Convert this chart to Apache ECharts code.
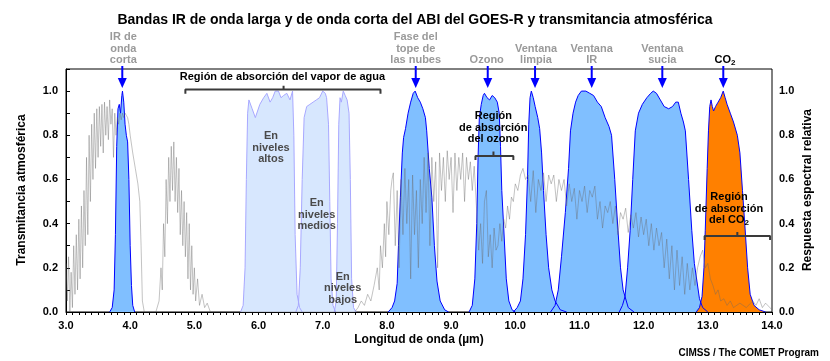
<!DOCTYPE html>
<html><head><meta charset="utf-8">
<script src="https://cdn.jsdelivr.net/npm/echarts@6/dist/echarts.min.js"></script>
<style>html,body{margin:0;padding:0;background:#fff}#c{width:830px;height:361px}</style>
</head><body><div id="c"></div>
<script>
// ---- DATA ----
const xTicks = [3,4,5,6,7,8,9,10,11,12,13,14];
const transmittance = [
[3.00,0.22],[3.02,0.05],[3.04,0.25],[3.06,0.0],[3.08,0.18],[3.10,0.02],[3.12,0.3],[3.14,0.08],[3.16,0.35],[3.18,0.1],
[3.20,0.42],[3.22,0.15],[3.24,0.48],[3.26,0.2],[3.28,0.55],[3.30,0.3],[3.32,0.7],[3.34,0.35],[3.36,0.8],[3.38,0.5],
[3.40,0.85],[3.42,0.6],[3.44,0.9],[3.46,0.65],[3.48,0.92],[3.50,0.7],[3.52,0.93],[3.54,0.75],[3.56,0.94],[3.58,0.72],
[3.60,0.95],[3.62,0.8],[3.64,0.93],[3.66,0.78],[3.68,0.96],[3.70,0.85],[3.72,0.92],[3.74,0.7],[3.76,0.9],[3.78,0.8],
[3.80,0.88],[3.82,0.85],[3.84,0.9],[3.86,0.87],[3.88,0.9],[3.90,0.88],[3.92,0.9],[3.94,0.89],[3.96,0.88],[3.98,0.85],
[4.00,0.8],[4.04,0.72],[4.08,0.65],[4.12,0.58],[4.15,0.5],[4.17,0.3],[4.19,0.05],[4.22,0.0],[4.40,0.0],
[4.45,0.05],[4.48,0.2],[4.50,0.1],[4.52,0.4],[4.54,0.25],[4.56,0.6],[4.58,0.4],[4.60,0.7],[4.62,0.5],[4.64,0.75],
[4.66,0.55],[4.68,0.77],[4.70,0.5],[4.72,0.7],[4.74,0.45],[4.76,0.65],[4.78,0.35],[4.80,0.55],[4.82,0.3],[4.84,0.5],
[4.86,0.25],[4.88,0.45],[4.90,0.15],[4.92,0.4],[4.94,0.1],[4.96,0.3],[4.98,0.08],[5.00,0.2],[5.02,0.05],[5.05,0.15],
[5.08,0.03],[5.12,0.08],[5.16,0.02],[5.20,0.04],[5.25,0.0],[7.50,0.0],
[7.55,0.02],[7.60,0.05],[7.65,0.03],[7.70,0.08],[7.75,0.05],[7.80,0.12],[7.85,0.2],[7.88,0.1],[7.90,0.3],[7.93,0.2],
[7.96,0.4],[7.98,0.25],[8.00,0.5],[8.03,0.35],[8.06,0.55],[8.08,0.6],[8.10,0.63],[8.13,0.3],[8.16,0.55],[8.19,0.2],
[8.22,0.6],[8.25,0.35],[8.28,0.65],[8.31,0.4],[8.34,0.6],[8.37,0.15],[8.40,0.62],[8.43,0.35],[8.46,0.55],[8.49,0.2],
[8.52,0.6],[8.55,0.4],[8.58,0.7],[8.61,0.45],[8.64,0.72],[8.67,0.3],[8.70,0.7],[8.73,0.5],[8.76,0.68],[8.79,0.2],
[8.82,0.72],[8.85,0.55],[8.88,0.7],[8.91,0.5],[8.94,0.73],[8.97,0.6],[9.00,0.7],[9.03,0.45],[9.06,0.72],[9.09,0.55],
[9.12,0.7],[9.15,0.6],[9.18,0.72],[9.21,0.5],[9.24,0.7],[9.27,0.6],[9.30,0.68],[9.33,0.55],[9.36,0.66],[9.40,0.45],
[9.43,0.28],[9.46,0.4],[9.49,0.22],[9.52,0.5],[9.55,0.55],[9.58,0.25],[9.61,0.35],[9.64,0.2],[9.67,0.38],[9.70,0.28],
[9.73,0.3],[9.76,0.4],[9.79,0.32],[9.82,0.42],[9.85,0.38],[9.88,0.48],[9.91,0.42],[9.94,0.52],[9.97,0.5],[10.00,0.58],
[10.04,0.55],[10.08,0.62],[10.12,0.65],[10.16,0.6],[10.20,0.62],[10.24,0.5],[10.28,0.64],[10.32,0.45],[10.36,0.6],[10.40,0.55],
[10.44,0.63],[10.48,0.5],[10.52,0.62],[10.56,0.58],[10.60,0.62],[10.64,0.5],[10.68,0.6],[10.72,0.55],[10.76,0.6],[10.80,0.48],
[10.84,0.58],[10.88,0.5],[10.92,0.56],[10.96,0.42],[11.00,0.55],[11.04,0.5],[11.08,0.57],[11.12,0.45],[11.16,0.55],[11.20,0.52],
[11.24,0.57],[11.28,0.42],[11.32,0.5],[11.36,0.38],[11.40,0.48],[11.44,0.45],[11.48,0.5],[11.52,0.4],[11.56,0.48],[11.60,0.35],
[11.64,0.45],[11.68,0.42],[11.72,0.47],[11.76,0.36],[11.80,0.44],[11.84,0.38],[11.88,0.45],[11.92,0.34],[11.96,0.43],[12.00,0.35],
[12.04,0.42],[12.08,0.3],[12.12,0.4],[12.16,0.28],[12.20,0.38],[12.24,0.3],[12.28,0.36],[12.32,0.2],[12.36,0.33],[12.40,0.15],
[12.44,0.3],[12.48,0.1],[12.52,0.28],[12.56,0.12],[12.60,0.25],[12.64,0.08],[12.68,0.22],[12.72,0.1],[12.76,0.2],[12.80,0.12],
[12.84,0.2],[12.88,0.25],[12.92,0.28],[12.96,0.2],[13.00,0.22],[13.04,0.15],[13.08,0.12],[13.12,0.08],[13.16,0.1],[13.20,0.05],
[13.25,0.06],[13.30,0.03],[13.35,0.05],[13.40,0.02],[13.50,0.04],[13.60,0.02],[13.70,0.05],[13.75,0.03],[13.80,0.06],[13.85,0.02],
[13.90,0.04],[14.00,0.01]
];
const band7 = [[3.68,0],[3.72,0.02],[3.75,0.1],[3.77,0.35],[3.79,0.75],[3.81,0.92],[3.83,0.94],[3.85,0.9],[3.87,0.98],[3.88,1.0],[3.90,0.95],[3.92,0.85],[3.94,0.8],[3.96,0.77],[3.98,0.6],[4.00,0.3],[4.02,0.12],[4.04,0.03],[4.07,0]];
const band8 = [[5.72,0],[5.76,0.03],[5.79,0.2],[5.81,0.6],[5.83,0.9],[5.85,0.96],[5.90,0.92],[5.95,0.88],[6.02,0.94],[6.08,0.97],[6.13,0.99],[6.18,0.95],[6.22,0.97],[6.26,1.0],[6.31,1.0],[6.35,0.97],[6.39,0.98],[6.44,0.99],[6.49,0.96],[6.53,1.0],[6.55,0.8],[6.57,0.35],[6.60,0.08],[6.64,0.02],[6.68,0]];
const band9 = [[6.58,0],[6.62,0.03],[6.65,0.2],[6.68,0.6],[6.71,0.88],[6.75,0.93],[6.80,0.94],[6.85,0.95],[6.90,0.96],[6.95,0.97],[7.00,1.0],[7.04,0.99],[7.06,0.97],[7.09,0.85],[7.11,0.5],[7.13,0.15],[7.16,0.03],[7.20,0]];
const band10 = [[7.18,0],[7.21,0.05],[7.23,0.4],[7.25,0.85],[7.27,0.97],[7.29,0.95],[7.32,1.0],[7.35,0.98],[7.38,0.96],[7.41,0.9],[7.43,0.6],[7.45,0.15],[7.48,0.02],[7.52,0]];
const band11 = [[8.02,0],[8.08,0.02],[8.12,0.05],[8.16,0.13],[8.18,0.3],[8.21,0.52],[8.24,0.72],[8.26,0.79],[8.29,0.83],[8.33,0.9],[8.37,0.95],[8.41,0.99],[8.44,1.0],[8.48,0.97],[8.52,0.95],[8.56,0.92],[8.60,0.88],[8.62,0.82],[8.66,0.65],[8.70,0.52],[8.74,0.3],[8.78,0.14],[8.83,0.05],[8.90,0.01],[8.96,0]];
const band12 = [[9.28,0],[9.33,0.03],[9.37,0.15],[9.40,0.4],[9.42,0.7],[9.44,0.88],[9.47,0.94],[9.50,0.98],[9.52,0.99],[9.56,0.97],[9.60,0.96],[9.64,0.98],[9.68,0.97],[9.72,0.95],[9.75,0.9],[9.77,0.75],[9.79,0.55],[9.82,0.38],[9.86,0.15],[9.90,0.05],[9.95,0.01],[10.00,0]];
const band13 = [[9.97,0],[10.03,0.02],[10.08,0.05],[10.12,0.15],[10.16,0.35],[10.19,0.6],[10.21,0.85],[10.23,0.97],[10.25,1.0],[10.28,0.97],[10.31,0.93],[10.35,0.88],[10.38,0.83],[10.41,0.72],[10.44,0.55],[10.48,0.35],[10.52,0.2],[10.57,0.1],[10.62,0.05],[10.70,0.01],[10.80,0]];
const band14 = [[10.55,0],[10.62,0.03],[10.67,0.1],[10.72,0.25],[10.78,0.45],[10.83,0.65],[10.86,0.82],[10.90,0.9],[10.94,0.95],[10.98,0.98],[11.03,1.0],[11.10,1.0],[11.16,0.99],[11.22,0.98],[11.28,0.95],[11.34,0.93],[11.40,0.88],[11.46,0.84],[11.50,0.8],[11.55,0.6],[11.60,0.37],[11.64,0.2],[11.68,0.1],[11.76,0.02],[11.85,0]];
const band15 = [[11.62,0],[11.67,0.03],[11.71,0.07],[11.75,0.2],[11.79,0.37],[11.83,0.6],[11.87,0.82],[11.92,0.9],[11.98,0.94],[12.05,0.97],[12.11,0.99],[12.15,1.0],[12.20,0.99],[12.26,0.96],[12.32,0.93],[12.39,0.92],[12.45,0.93],[12.50,0.95],[12.54,0.95],[12.58,0.9],[12.62,0.86],[12.65,0.82],[12.70,0.6],[12.75,0.37],[12.79,0.22],[12.83,0.14],[12.87,0.06],[12.92,0.02],[13.00,0]];
const band16 = [[12.82,0],[12.87,0.02],[12.91,0.07],[12.94,0.2],[12.96,0.37],[12.99,0.65],[13.01,0.82],[13.03,0.93],[13.05,0.96],[13.07,0.93],[13.09,0.91],[13.12,0.93],[13.16,0.95],[13.20,0.97],[13.24,1.0],[13.27,0.97],[13.30,0.94],[13.35,0.9],[13.40,0.86],[13.46,0.8],[13.50,0.72],[13.54,0.55],[13.58,0.38],[13.62,0.2],[13.66,0.08],[13.72,0.03],[13.80,0.01],[13.90,0]];
const arrowX = [3.877, 8.449, 9.571, 10.308, 11.191, 12.291, 13.241];
const topLabels = ["IR de\nonda\ncorta", "Fase del\ntope de\nlas nubes", "Ozono", "Ventana\nlimpia", "Ventana\nIR", "Ventana\nsucia"];
const topLabelX = [3.893, 8.449, 9.555, 10.323, 11.191, 12.291];
const brackets = [
  {x0:4.86, x1:7.90, xm:6.39, y:1.007, yEnd:0.988, yMid:1.024},
  {x0:9.38, x1:9.97, xm:9.66, y:0.706, yEnd:0.688, yMid:0.726},
  {x0:12.95, x1:13.97, xm:13.46, y:0.344, yEnd:0.326, yMid:0.362}
];

// ---- CHART ----
const chart = echarts.init(document.getElementById('c'), null, {renderer:'canvas'});
const FF = '"Liberation Sans", Arial, sans-serif';
const BLUE_FILL = '#80bfff', BLUE_LINE = '#0000ff';
const WV_FILL = '#d7e7fe', WV_LINE = '#a8a8ff';
function band(data, fill, line, z) {
  return {type:'line', data, showSymbol:false, symbol:'none', silent:true, z,
    lineStyle:{color:line, width:1}, areaStyle:{color:fill, opacity:1}};
}
const series = [
  band(band8, WV_FILL, WV_LINE, 2), band(band9, WV_FILL, WV_LINE, 2), band(band10, WV_FILL, WV_LINE, 2),
  band(band7, BLUE_FILL, BLUE_LINE, 3), band(band11, BLUE_FILL, BLUE_LINE, 3), band(band12, BLUE_FILL, BLUE_LINE, 3),
  band(band13, BLUE_FILL, BLUE_LINE, 3), band(band14, BLUE_FILL, BLUE_LINE, 3), band(band15, BLUE_FILL, BLUE_LINE, 3),
  band(band16, '#ff8000', BLUE_LINE, 3),
  {type:'line', data:transmittance, showSymbol:false, symbol:'none', silent:true, z:4,
    lineStyle:{color:'rgba(105,105,105,0.4)', width:1}}
];
brackets.forEach(b => {
  series.push({type:'line', silent:true, symbol:'none', z:6,
    lineStyle:{color:'#3a3a3a', width:2},
    data:[[b.x0,b.yEnd],[b.x0,b.y],[b.xm,b.y],[b.xm,b.yMid],[b.xm,b.y],[b.x1,b.y],[b.x1,b.yEnd]]});
});

const labelFmt = v => { const r = Math.round(v*10); return (r%2===0 && r<=10) ? (r/10).toFixed(1) : ''; };
chart.setOption({
  animation:false,
  textStyle:{fontFamily:FF},
  title:{text:'Bandas IR de onda larga y de onda corta del ABI del GOES-R y transmitancia atmosférica',
    left:'center', top:8, textStyle:{fontSize:14, fontWeight:'bold', color:'#000', fontFamily:FF}},
  grid:{left:66, right:58, top:69, bottom:49, show:true, borderColor:'#000', borderWidth:1, backgroundColor:'transparent'},
  xAxis:{type:'value', min:3, max:14, interval:1,
    axisLine:{lineStyle:{color:'#000', width:1}},
    axisTick:{show:true, length:3, lineStyle:{color:'#000'}},
    minorTick:{show:true, splitNumber:10, length:3, lineStyle:{color:'#000'}},
    splitLine:{show:false},
    axisLabel:{formatter:v=>v.toFixed(1), fontSize:11, fontWeight:'bold', color:'#000', margin:8, fontFamily:FF}},
  yAxis:[
    {type:'value', min:0, max:1.1, interval:0.1, position:'left',
     axisLine:{show:true, lineStyle:{color:'#000'}},
     axisTick:{show:true, inside:true, length:4, lineStyle:{color:'#000'}},
     splitLine:{show:false},
     axisLabel:{formatter:labelFmt, fontSize:11, fontWeight:'bold', color:'#000', margin:8, fontFamily:FF}},
    {type:'value', min:0, max:1.1, interval:0.1, position:'right',
     axisLine:{show:false}, axisTick:{show:false}, splitLine:{show:false},
     axisLabel:{formatter:labelFmt, fontSize:11, fontWeight:'bold', color:'#000', margin:7, fontFamily:FF}}
  ],
  series
});

const px = (x, y) => chart.convertToPixel({xAxisIndex:0, yAxisIndex:0}, [x, y]);
const g = [];
function txt(text, x, y, opts) {
  g.push({type:'text', silent:true, z:100, style:Object.assign({text, x, y, align:'center', verticalAlign:'middle',
    fontSize:11, fontWeight:'bold', fontFamily:FF, fill:'#000', lineHeight:11.5}, opts||{})});
}
// arrows
arrowX.forEach(ax => {
  const p = px(ax, 0)[0];
  g.push({type:'line', silent:true, z:100, shape:{x1:p, y1:66, x2:p, y2:81}, style:{stroke:BLUE_LINE, lineWidth:2}});
  g.push({type:'polygon', silent:true, z:100, shape:{points:[[p-4.5,78],[p+4.5,78],[p,88]]}, style:{fill:BLUE_LINE}});
});
// top labels
topLabels.forEach((t, i) => {
  const n = t.split('\n').length;
  const cy = 60 - (n-1)*11.5/2;
  txt(t, px(topLabelX[i],0)[0], cy, {fill:'#9a9a9a'});
});
txt('{a|CO}{b|2}', px(13.268,0)[0], 60, {rich:{a:{fontSize:11, fontWeight:'bold', fontFamily:FF, fill:'#000'}, b:{fontSize:8, fontWeight:'bold', fontFamily:FF, fill:'#000', padding:[6,0,0,0]}}});
// inner annotations
txt('Región de absorción del vapor de agua', px(6.373,0)[0], px(0,1.062)[1]);
txt('En\nniveles\naltos', px(6.194,0)[0], px(0,0.743)[1], {fill:'#4a4a4a'});
txt('En\nniveles\nmedios', px(6.906,0)[0], px(0,0.44)[1], {fill:'#4a4a4a'});
txt('En\nniveles\nbajos', px(7.311,0)[0], px(0,0.107)[1], {fill:'#4a4a4a'});
txt('Región\nde absorción\ndel ozono', px(9.658,0)[0], px(0,0.834)[1]);
txt('Región\nde absorción\n{a|del CO}{b|2}', px(13.33,0)[0], px(0,0.468)[1], {rich:{a:{fontSize:11, fontWeight:'bold', fontFamily:FF, fill:'#000'}, b:{fontSize:8, fontWeight:'bold', fontFamily:FF, fill:'#000', padding:[6,0,0,0]}}});
// axis names
g.push({type:'text', silent:true, style:{text:'Transmitancia atmosférica', x:0, y:0, align:'center', verticalAlign:'middle', fontSize:12, fontWeight:'bold', fontFamily:FF, fill:'#000'}, x:22, y:190, rotation:Math.PI/2});
g.push({type:'text', silent:true, style:{text:'Respuesta espectral relativa', x:0, y:0, align:'center', verticalAlign:'middle', fontSize:12, fontWeight:'bold', fontFamily:FF, fill:'#000'}, x:808, y:190, rotation:Math.PI/2});
txt('Longitud de onda (µm)', px(8.5,0)[0], 340, {fontSize:12});
txt('CIMSS / The COMET Program', 819, 353, {align:'right', fontSize:10, fontFamily:'"Liberation Sans Narrow", "Liberation Sans", Arial'});
chart.setOption({graphic:g});
</script></body></html>
